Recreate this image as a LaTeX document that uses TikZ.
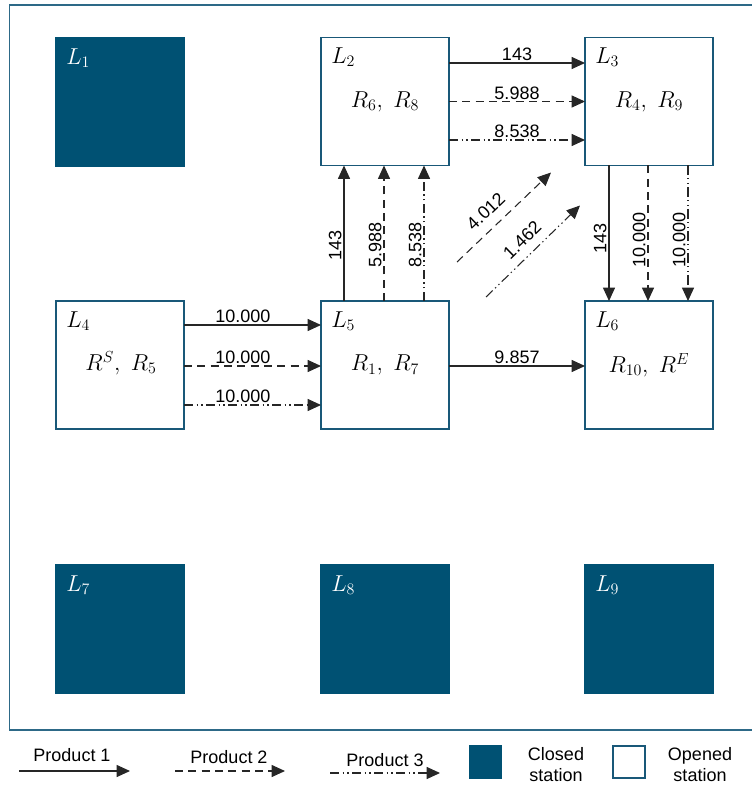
\documentclass[tikz,border=0pt]{standalone}
\usepackage{fontspec}
\setsansfont{Liberation Sans}
\usetikzlibrary{arrows.meta,calc}
\definecolor{closedc}{RGB}{0,81,115}
\definecolor{edgec}{RGB}{25,88,120}
\definecolor{framec}{RGB}{45,105,135}
\begin{document}
\begin{tikzpicture}[x=0.75pt,y=-0.75pt,
 station/.style={draw=edgec, line width=1pt, minimum width=96pt, minimum height=96pt, inner sep=0pt, outer sep=0pt},
 closed/.style={station, fill=closedc, draw=closedc},
 opened/.style={station, fill=white},
 lbl/.style={font=\fontsize{16.5}{19}\selectfont, inner sep=0pt},
 flow/.style={line width=0.8pt, draw=black!85, -{Triangle[length=10pt,width=9pt]}},
 p1/.style={flow},
 p2/.style={flow, dash pattern=on 6pt off 4pt},
 p3/.style={flow, dash pattern=on 7pt off 2.5pt on 1pt off 2.5pt on 1pt off 2.5pt},
 num/.style={font=\sffamily\fontsize{13.5}{15.75}\selectfont, inner sep=1.5pt, text=black},
]
\useasboundingbox (0,0) rectangle (751,787);
\draw[framec, line width=1pt] (770,5) -- (9.5,5) -- (9.5,730) -- (770,730);

% stations
\node[closed] (L1) at (120,102) {};
\node[opened] (L2) at (385,101.5) {};
\node[opened] (L3) at (649,101.5) {};
\node[opened] (L4) at (120,365) {};
\node[opened] (L5) at (385,365) {};
\node[opened] (L6) at (649,365) {};
\node[closed] (L7) at (120,629) {};
\node[closed] (L8) at (385,629) {};
\node[closed] (L9) at (649,629) {};

% station labels
\node[lbl, anchor=north west, text=white] (t1) at ($(L1.north west)+(10,10)$) {$L_1$};
\node[lbl, anchor=north west] (t2) at ($(L2.north west)+(10,10)$) {$L_2$};
\node[lbl, anchor=north west] (t3) at ($(L3.north west)+(10,10)$) {$L_3$};
\node[lbl, anchor=north west] (t4) at ($(L4.north west)+(10,10)$) {$L_4$};
\node[lbl, anchor=north west] (t5) at ($(L5.north west)+(10,10)$) {$L_5$};
\node[lbl, anchor=north west] (t6) at ($(L6.north west)+(10,10)$) {$L_6$};
\node[lbl, anchor=north west, text=white] (t7) at ($(L7.north west)+(10,10)$) {$L_7$};
\node[lbl, anchor=north west, text=white] (t8) at ($(L8.north west)+(10,10)$) {$L_8$};
\node[lbl, anchor=north west, text=white] (t9) at ($(L9.north west)+(10,10)$) {$L_9$};

\node[lbl] (c2) at (L2) {$R_6,\ R_8$};
\node[lbl] (c3) at (L3) {$R_4,\ R_9$};
\node[lbl] (c4) at ($(L4)+(1,-2)$) {$R^S,\ R_5$};
\node[lbl] (c5) at (L5) {$R_1,\ R_7$};
\node[lbl] (c6) at (L6) {$R_{10},\ R^E$};

% L2 -> L3
\draw[p1] ($(L2.east)+(0,-38.5)$) -- node[num,above,inner sep=1pt] (n1) {143} ($(L3.west)+(0,-38.5)$);
\draw[p2] (L2.east) -- node[num,above,inner sep=1pt] (n2) {5.988} (L3.west);
\draw[p3] ($(L2.east)+(0,38.5)$) -- node[num,above,inner sep=1pt] (n3) {8.538} ($(L3.west)+(0,38.5)$);

% L5 -> L2
\draw[p1] ($(L5.north)+(-41,0)$) -- node[num,pos=0.41,rotate=90,anchor=south] (n4) {143} ($(L2.south)+(-41,0)$);
\draw[p2] ($(L5.north)+(-1,0)$) -- node[num,pos=0.41,rotate=90,anchor=south] (n5) {5.988} ($(L2.south)+(-1,0)$);
\draw[p3] ($(L5.north)+(39,0)$) -- node[num,pos=0.41,rotate=90,anchor=south] (n6) {8.538} ($(L2.south)+(39,0)$);

% L3 -> L6
\draw[p1] ($(L3.south)+(-40,0)$) -- node[num,pos=0.54,rotate=90,anchor=south] (n7) {143} ($(L6.north)+(-40,0)$);
\draw[p2] ($(L3.south)+(-1,0)$) -- node[num,pos=0.55,rotate=90,anchor=south] (n8) {10.000} ($(L6.north)+(-1,0)$);
\draw[p3] ($(L3.south)+(39,0)$) -- node[num,pos=0.55,rotate=90,anchor=south] (n9) {10.000} ($(L6.north)+(39,0)$);

% L5 -> L3 (diagonal)
\draw[p2] ($(L5.north east)+(8,-39)$) -- node[num,pos=0.43,above=6pt,sloped] (n10) {4.012} ($(L3.south west)+(-34,7)$);
\draw[p3] ($(L5.north east)+(37,-4)$) -- node[num,pos=0.5,above=5pt,sloped] (n11) {1.462} ($(L3.south west)+(-5,40)$);

% L4 -> L5
\draw[p1] ($(L4.east)+(0,-40)$) -- node[num,pos=0.43,above,inner sep=1pt] (n12) {10.000} ($(L5.west)+(0,-40)$);
\draw[p2] ($(L4.east)+(0,1)$) -- node[num,pos=0.43,above,inner sep=1pt] (n13) {10.000} ($(L5.west)+(0,1)$);
\draw[p3] ($(L4.east)+(0,40)$) -- node[num,pos=0.43,above,inner sep=1pt] (n14) {10.000} ($(L5.west)+(0,40)$);

% L5 -> L6
\draw[p1] ($(L5.east)+(0,1)$) -- node[num,above,inner sep=1pt] (n15) {9.857} ($(L6.west)+(0,1)$);

% legend
\node[num] (lg1) at (72,755) {Product 1};
\coordinate (a1s) at (19,771);
\coordinate (a1e) at (130,771);
\draw[p1] (a1s) -- (a1e);
\node[num] (lg2) at (229,757) {Product 2};
\coordinate (a2s) at (175,771);
\coordinate (a2e) at (285,771);
\draw[p2] (a2s) -- (a2e);
\node[num] (lg3) at (385,760) {Product 3};
\coordinate (a3s) at (330,773);
\coordinate (a3e) at (440,773);
\draw[p3] (a3s) -- (a3e);
\node[closed, minimum width=24pt, minimum height=24pt] (lgc) at (485.5,762) {};
\node[num, align=center] (lgct) at (556,765) {Closed\\station};
\node[opened, minimum width=24pt, minimum height=24pt] (lgo) at (629,762) {};
\node[num, align=center] (lgot) at (700,765) {Opened\\station};
\end{tikzpicture}
\end{document}
